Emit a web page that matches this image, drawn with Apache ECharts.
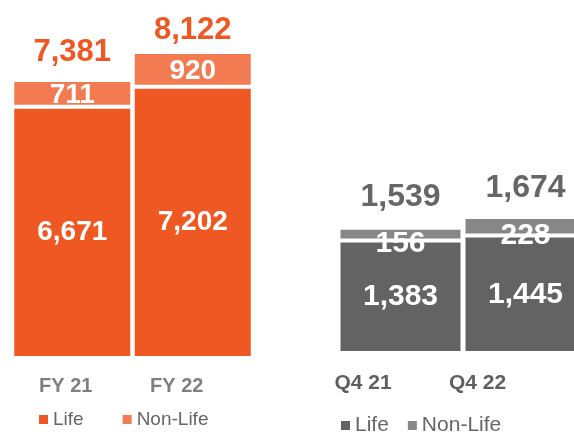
<!DOCTYPE html>
<html>
<head>
<meta charset="utf-8">
<script src="https://cdn.jsdelivr.net/npm/echarts@6/dist/echarts.min.js"></script>
<style>html,body{margin:0;padding:0;background:#fff}#c{width:574px;height:432px}</style>
</head>
<body>
<div id="c"></div>
<script>
const categoriesFY = ['FY 21', 'FY 22'];
const lifeFY = [6671, 7202];
const nonLifeFY = [711, 920];
const totalFY = [7381, 8122];
const categoriesQ = ['Q4 21', 'Q4 22'];
const lifeQ = [1383, 1445];
const nonLifeQ = [156, 228];
const totalQ = [1539, 1674];
const seriesNames = ['Life', 'Non-Life'];

const FONT = '"Liberation Sans", Arial, sans-serif';
const fmt = v => Number(v).toLocaleString('en-US');
const C = { lifeFY: '#F05823', nonFY: '#F27B52', lifeQ: '#636363', nonQ: '#878787' };

// layout-only tweaks (label nudges), kept apart from the data
const totalDistFY = [12, 6];
const totalDistQ = [15, 13];
const labelPadFY = [13, 32];
const labelPadQ = [75, 96];

const chart = echarts.init(document.getElementById('c'), null, { renderer: 'canvas' });
const border = { borderColor: '#fff', borderWidth: 2 };

function totalData(vals, dists) {
  return vals.map((v, i) => ({ value: v, label: { distance: dists[i] } }));
}
function catLabel(fontSize, color, pads) {
  const rich = {};
  pads.forEach((p, i) => {
    rich['c' + i] = { fontSize: fontSize, fontWeight: 'bold', color: color, fontFamily: FONT, padding: [0, p, 0, 0] };
  });
  return {
    interval: 0, hideOverlap: false,
    fontSize: fontSize, fontWeight: 'bold', color: color, fontFamily: FONT,
    formatter: (v, i) => '{c' + i + '|' + v + '}',
    rich: rich
  };
}

chart.setOption({
  animation: false,
  backgroundColor: '#fff',
  textStyle: { fontFamily: FONT },
  grid: [
    { left: 12, width: 241, top: 19, bottom: 74, outerBoundsMode: 'none', containLabel: false },
    { left: 338, width: 250, top: 109, bottom: 79, outerBoundsMode: 'none', containLabel: false }
  ],
  xAxis: [
    { type: 'category', gridIndex: 0, data: categoriesFY, axisLine: { show: false }, axisTick: { show: false },
      axisLabel: Object.assign({ margin: 18 }, catLabel(20, '#7f7f7f', labelPadFY)) },
    { type: 'category', gridIndex: 1, data: categoriesQ, axisLine: { show: false }, axisTick: { show: false },
      axisLabel: Object.assign({ margin: 20 }, catLabel(21, '#5f5f5f', labelPadQ)) }
  ],
  yAxis: [
    { type: 'value', gridIndex: 0, min: 0, max: 9000, show: false, splitLine: { show: false } },
    { type: 'value', gridIndex: 1, min: 0, max: 3000, show: false, splitLine: { show: false } }
  ],
  legend: [
    { selectedMode: false, left: 39, top: 410, padding: 0, icon: 'rect', itemWidth: 9, itemHeight: 9, itemGap: 39,
      textStyle: { fontSize: 19, color: '#666', fontFamily: FONT },
      data: [{ name: seriesNames[0], itemStyle: { color: C.lifeFY, borderWidth: 0 } },
             { name: seriesNames[1], itemStyle: { color: C.nonFY, borderWidth: 0 } }] },
    { selectedMode: false, left: 341, top: 415, padding: 0, icon: 'rect', itemWidth: 9, itemHeight: 9, itemGap: 19,
      textStyle: { fontSize: 21, color: '#666', fontFamily: FONT },
      data: [{ name: seriesNames[0], itemStyle: { color: C.lifeQ, borderWidth: 0 } },
             { name: seriesNames[1], itemStyle: { color: C.nonQ, borderWidth: 0 } }] }
  ],
  series: [
    { name: 'TotalFY', type: 'bar', xAxisIndex: 0, yAxisIndex: 0, data: totalData(totalFY, totalDistFY), barWidth: 120, barGap: '-100%', z: 1,
      itemStyle: { color: 'rgba(0,0,0,0)' }, silent: true,
      label: { show: true, position: 'top', formatter: p => fmt(p.value), fontSize: 31, fontWeight: 'bold', color: C.lifeFY, fontFamily: FONT } },
    { name: seriesNames[0], type: 'bar', stack: 'fy', xAxisIndex: 0, yAxisIndex: 0, data: lifeFY, barWidth: 120, z: 2,
      itemStyle: Object.assign({ color: C.lifeFY }, border),
      label: { show: true, position: 'inside', formatter: p => fmt(p.value), fontSize: 28, fontWeight: 'bold', color: '#fff', fontFamily: FONT } },
    { name: seriesNames[1], type: 'bar', stack: 'fy', xAxisIndex: 0, yAxisIndex: 0, data: nonLifeFY, barWidth: 120, z: 2,
      itemStyle: Object.assign({ color: C.nonFY }, border),
      label: { show: true, position: 'inside', offset: [0, 2], formatter: p => fmt(p.value), fontSize: 28, fontWeight: 'bold', color: '#fff', fontFamily: FONT } },

    { name: 'TotalQ', type: 'bar', xAxisIndex: 1, yAxisIndex: 1, data: totalData(totalQ, totalDistQ), barWidth: 124, barGap: '-100%', z: 1,
      itemStyle: { color: 'rgba(0,0,0,0)' }, silent: true,
      label: { show: true, position: 'top', formatter: p => fmt(p.value), fontSize: 32, fontWeight: 'bold', color: '#666', fontFamily: FONT } },
    { name: seriesNames[0], type: 'bar', stack: 'q', xAxisIndex: 1, yAxisIndex: 1, data: lifeQ, barWidth: 124, z: 2,
      itemStyle: Object.assign({ color: C.lifeQ }, border),
      label: { show: true, position: 'inside', formatter: p => fmt(p.value), fontSize: 30, fontWeight: 'bold', color: '#fff', fontFamily: FONT } },
    { name: seriesNames[1], type: 'bar', stack: 'q', xAxisIndex: 1, yAxisIndex: 1, data: nonLifeQ, barWidth: 124, z: 2,
      itemStyle: Object.assign({ color: C.nonQ }, border),
      label: { show: true, position: 'inside', offset: [0, 10], formatter: p => fmt(p.value), fontSize: 30, fontWeight: 'bold', color: '#fff', fontFamily: FONT } }
  ]
});
</script>
</body>
</html>
